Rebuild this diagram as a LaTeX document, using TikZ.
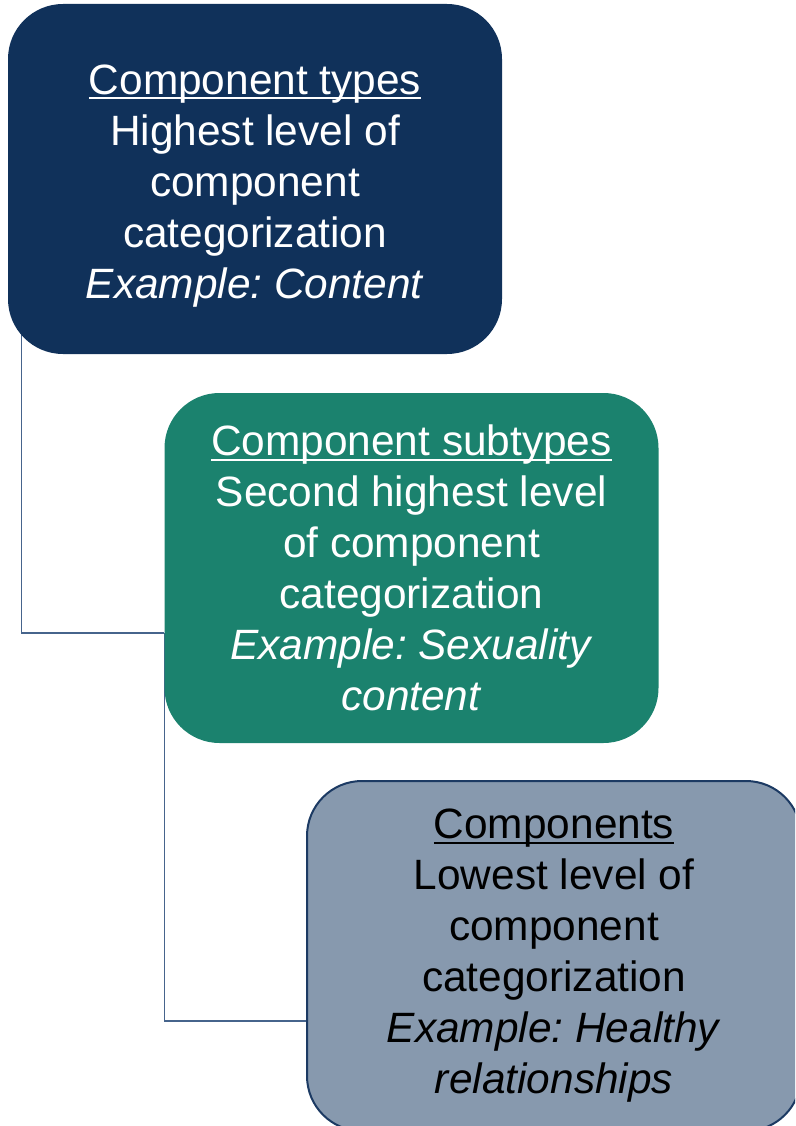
\documentclass[tikz,border=0pt]{standalone}
\usepackage{fontspec}
\setmainfont{Liberation Sans}
\usetikzlibrary{backgrounds}
\frenchspacing
\definecolor{navy}{RGB}{16,49,90}
\definecolor{teal2}{RGB}{27,130,110}
\definecolor{slate}{RGB}{135,153,174}
\definecolor{edgeblue}{RGB}{28,58,99}
\definecolor{connblue}{RGB}{70,100,140}
\newcommand\myuline[1]{\setbox0\hbox{#1}\rlap{\rule[-5pt]{\wd0}{2pt}}\box0}
\tikzset{
  card/.style={rounded corners=55pt, minimum width=494pt, minimum height=350pt,
    align=center, inner sep=0pt, font=\fontsize{42.4}{51}\selectfont},
  conn/.style={draw=connblue, line width=1.3pt}
}
\begin{document}
\begin{tikzpicture}[x=1pt,y=-1pt]
\useasboundingbox (0,0) rectangle (795,1126);
\clip (0,0) rectangle (795,1126);
\node[card, fill=navy, text=white] (b1) at (255,179)
  {\rule{0pt}{43pt}\myuline{Component types}\\Highest level of\\component\\categorization\\\textit{Example: Content}};
\node[card, fill=teal2, text=white] (b2) at (411.5,568)
  {\myuline{Component subtypes}\\Second highest level\\of component\\categorization\\\textit{Example: Sexuality}\\\textit{content}};
\node[card, fill=slate, draw=edgeblue, line width=2pt, text=black] (b3) at (554,956)
  {\myuline{Components}\\Lowest level of\\component\\categorization\\\textit{Example: Healthy}\\\textit{relationships}};
\begin{scope}[on background layer]
\draw[conn] ([xshift=14pt]b1.west) |- ([yshift=-65pt]b2.west);
\draw[conn] ([yshift=-65pt]b2.west) |- ([yshift=-65pt]b3.west);
\end{scope}
\end{tikzpicture}
\end{document}
